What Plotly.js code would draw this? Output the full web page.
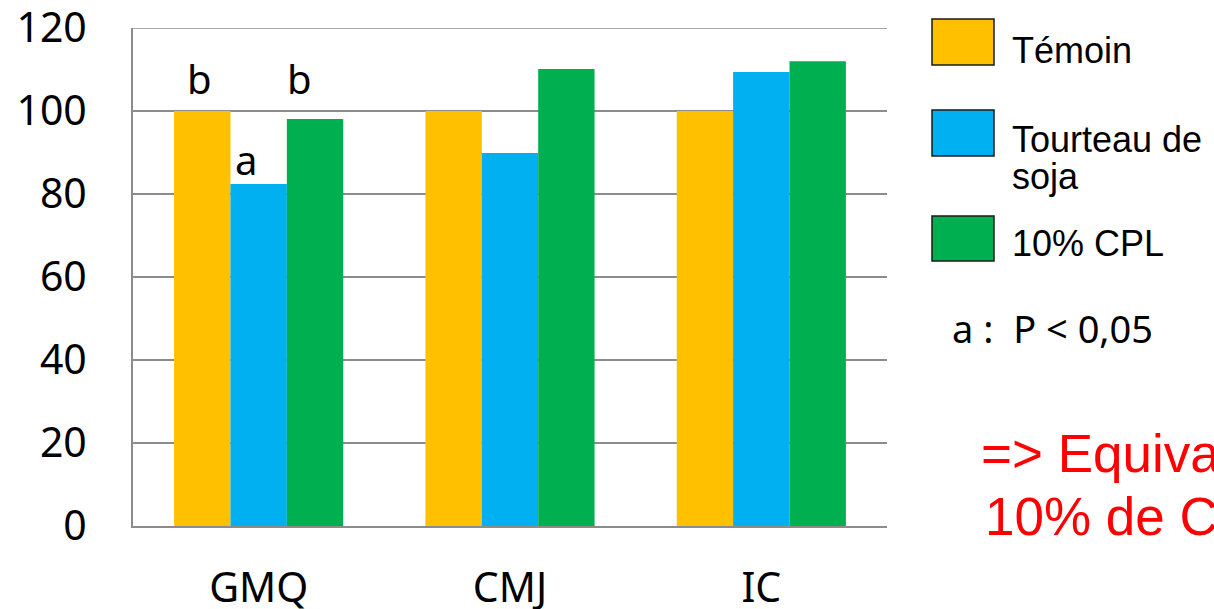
<!DOCTYPE html>
<html>
<head>
<meta charset="utf-8">
<script src="https://cdn.plot.ly/plotly-3.0.1.min.js"></script>
<style>
  html, body { margin: 0; padding: 0; background: #ffffff; }
  #chart { width: 1214px; height: 609px; }
</style>
</head>
<body>
<div id="chart"></div>
<script>
// Indicators compared across the three diets
const categories = ['GMQ', 'CMJ', 'IC'];
const seriesNames = ['Témoin', 'Tourteau de soja', '10% CPL'];
const temoin = [100, 100, 100];
const tourteauSoja = [82.4, 89.9, 109.4];
const cpl10 = [98.1, 110.1, 112.0];
// Significance letters above the GMQ group
const letters = ['b', 'a', 'b'];
const yTicks = [0, 20, 40, 60, 80, 100, 120];
const yMax = 120;
const noteText = 'a :  P < 0,05';
const conclusionLines = ['=> Equiva', '10% de C'];

const colors = ['#FFC000', '#00B0F0', '#00B050'];
const gridColor = '#8c8c8c';
const W = 1214, H = 609;
const M = { l: 133, r: 327, t: 28, b: 83 };
const plotW = W - M.l - M.r, plotH = H - M.t - M.b;
// pixel position -> paper coordinates (for the side legend and notes)
const px = x => (x - M.l) / plotW;
const py = y => (H - M.b - y) / plotH;

const tickFont = { family: 'Noto Sans, sans-serif', size: 41, color: '#000000' };
const letterFont = { family: 'Noto Sans, sans-serif', size: 40, color: '#000000' };
const noteFont = { family: 'Noto Sans, sans-serif', size: 38, color: '#000000' };

function barTrace(name, values, color) {
  return {
    type: 'bar', name: name, x: categories, y: values,
    marker: { color: color, line: { width: 0 } },
    hoverinfo: 'x+y+name', showlegend: false
  };
}

const data = [
  barTrace(seriesNames[0], temoin, colors[0]),
  barTrace(seriesNames[1], tourteauSoja, colors[1]),
  barTrace(seriesNames[2], cpl10, colors[2])
];

// Top gridline at the end of the value range
const shapes = [{
  type: 'line', xref: 'paper', yref: 'y', x0: 0, x1: 1, y0: yMax, y1: yMax,
  line: { color: gridColor, width: 1.5 }, layer: 'below'
}];

// Side legend: outlined swatches with labels
const swatches = [
  { top: 19, bottom: 65, color: colors[0] },
  { top: 110, bottom: 156, color: colors[1] },
  { top: 216, bottom: 261, color: colors[2] }
];
swatches.forEach(s => shapes.push({
  type: 'rect', xref: 'paper', yref: 'paper',
  x0: px(932), x1: px(994), y0: py(s.bottom), y1: py(s.top),
  fillcolor: s.color, line: { color: '#1a1a1a', width: 1.5 }
}));

const legFont = { family: 'Liberation Sans, Arial, sans-serif', size: 36, color: '#000000' };
const redFont = { family: 'Liberation Sans, Arial, sans-serif', size: 53, color: '#FF0000' };
function label(text, xPos, yMid, font, anchor) {
  return { text: text, xref: 'paper', yref: 'paper', x: px(xPos), y: py(yMid),
           xanchor: anchor || 'left', yanchor: 'middle', showarrow: false, font: font };
}
const annotations = [
  label(letters[0], 199, 78, letterFont, 'center'),
  label(letters[1], 246, 159, letterFont, 'center'),
  label(letters[2], 299, 78, letterFont, 'center'),
  label(seriesNames[0], 1010, 50, legFont),
  label('Tourteau de', 1010, 139, legFont),
  label('soja', 1010, 176, legFont),
  label(seriesNames[2], 1010, 243, legFont),
  label(noteText, 950, 328, noteFont),
  label(conclusionLines[0], 979, 453, redFont),
  label(conclusionLines[1], 983, 516, redFont)
];

const layout = {
  width: W, height: H,
  margin: M,
  paper_bgcolor: '#ffffff', plot_bgcolor: '#ffffff',
  barmode: 'group', bargap: 0.327, bargroupgap: 0,
  xaxis: {
    showgrid: false, showline: true, linecolor: gridColor, linewidth: 2,
    ticks: '', tickfont: tickFont, ticklabelstandoff: 25, ticklabeloverflow: 'allow'
  },
  yaxis: {
    range: [0, yMax], tickvals: yTicks, ticktext: yTicks.map(String),
    showgrid: true, gridcolor: gridColor, gridwidth: 1.5,
    showline: true, linecolor: gridColor, linewidth: 2,
    zeroline: false, ticks: '', tickfont: tickFont, ticklabelstandoff: 36,
    ticklabeloverflow: 'allow'
  },
  shapes: shapes,
  annotations: annotations,
  showlegend: false
};

Plotly.newPlot('chart', data, layout, { staticPlot: true });
</script>
</body>
</html>
